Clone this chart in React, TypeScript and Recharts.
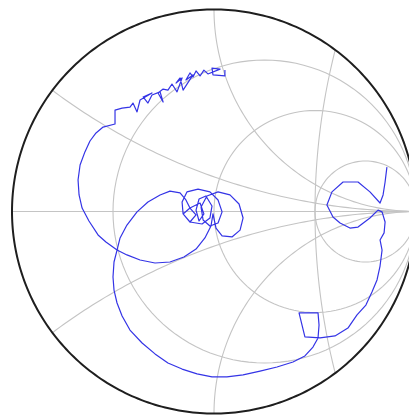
import React from "react";
import { ScatterChart, Scatter, XAxis, YAxis } from "recharts";

// normalized grid values of the Smith chart
const resistanceCircles = [1 / 3, 1, 3];
const reactanceArcs = [1 / 3, 1, -1 / 3, -1];
// extra pair of arcs: through z = 3 on the real axis and z = ±j2 on the rim
const sideArcR = 3;
const sideArcX = 2;

// measured reflection coefficient [re, im], in sweep order
const traceTop: [number, number][] = [
  [0.054, 0.7], [0.054, 0.671], [-0.005, 0.676], [-0.01, 0.71], [0.03, 0.705],
  [-0.03, 0.681], [-0.05, 0.7], [-0.069, 0.671], [-0.089, 0.696], [-0.104, 0.666],
  [-0.119, 0.686], [-0.139, 0.651], [-0.104, 0.676], [-0.153, 0.601], [-0.168, 0.661],
  [-0.188, 0.636], [-0.158, 0.661], [-0.183, 0.592], [-0.208, 0.631], [-0.228, 0.601],
  [-0.252, 0.606], [-0.277, 0.587], [-0.252, 0.542], [-0.267, 0.592], [-0.307, 0.577],
  [-0.327, 0.537], [-0.351, 0.567], [-0.307, 0.587], [-0.366, 0.552], [-0.381, 0.493],
  [-0.401, 0.537], [-0.416, 0.517], [-0.455, 0.512], [-0.49, 0.502], [-0.49, 0.433],
  [-0.549, 0.418],
];
const traceLeft: [number, number][] = [
  [-0.584, 0.389], [-0.614, 0.349], [-0.639, 0.295], [-0.663, 0.23], [-0.673, 0.156],
  [-0.668, 0.082], [-0.653, 0.017], [-0.619, -0.047], [-0.574, -0.116], [-0.535, -0.151],
  [-0.48, -0.191],
];
const traceEllipse: [number, number][] = [
  [-0.431, -0.215], [-0.366, -0.24], [-0.292, -0.255], [-0.218, -0.25], [-0.149, -0.225],
  [-0.089, -0.186], [-0.045, -0.131], [-0.015, -0.072], [-0.005, -0.012],
];
const traceLoops: [number, number][] = [
  [0.01, -0.082], [0.04, -0.121], [0.089, -0.126], [0.129, -0.092], [0.144, -0.032],
  [0.124, 0.037], [0.079, 0.082], [0.02, 0.097], [-0.035, 0.077], [-0.064, 0.022],
  [-0.054, -0.042], [-0.02, -0.072], [0.02, -0.057], [0.04, -0.002], [0.02, 0.057],
  [-0.02, 0.097], [-0.079, 0.111], [-0.134, 0.097], [-0.158, 0.047], [-0.153, -0.012],
  [-0.119, -0.052], [-0.059, -0.062], [-0.02, -0.032], [-0.01, 0.027], [-0.04, 0.077],
  [-0.074, 0.062], [-0.089, 0.007], [-0.074, -0.047], [-0.05, -0.012], [-0.069, 0.042],
  [-0.119, 0.017], [-0.089, -0.017], [-0.119, -0.052], [-0.153, -0.012], [-0.119, 0.017],
  [-0.139, 0.057], [-0.168, 0.092],
];
const traceReturn: [number, number][] = [
  [-0.218, 0.101], [-0.267, 0.082], [-0.327, 0.047], [-0.381, -0.002], [-0.431, -0.067],
  [-0.465, -0.131], [-0.48, -0.191],
];
const traceBottom: [number, number][] = [
  [-0.495, -0.25], [-0.5, -0.324], [-0.495, -0.389], [-0.48, -0.453], [-0.455, -0.517],
  [-0.416, -0.587], [-0.356, -0.651], [-0.292, -0.705], [-0.228, -0.75], [-0.158, -0.78],
  [-0.084, -0.804], [-0.01, -0.819], [0.064, -0.819], [0.144, -0.809], [0.228, -0.79],
  [0.312, -0.77], [0.391, -0.745], [0.45, -0.715], [0.49, -0.671], [0.515, -0.626],
  [0.52, -0.562], [0.515, -0.502], [0.421, -0.502], [0.45, -0.621], [0.525, -0.626],
  [0.599, -0.616], [0.663, -0.577], [0.708, -0.512],
];
const traceRight: [number, number][] = [
  [0.752, -0.463], [0.782, -0.399], [0.807, -0.339], [0.822, -0.27], [0.832, -0.191],
  [0.822, -0.141], [0.842, -0.106], [0.847, -0.052], [0.832, -0.002], [0.812, 0.007],
  [0.772, -0.032], [0.713, -0.077], [0.673, -0.082], [0.624, -0.057], [0.589, -0.027],
  [0.559, 0.032], [0.584, 0.097], [0.639, 0.146], [0.713, 0.146], [0.772, 0.097],
  [0.822, 0.042], [0.837, 0.082], [0.847, 0.146], [0.856, 0.22],
];

type Pt = { re: number; im: number };

const trace: Pt[] = [
  traceTop, traceLeft, traceEllipse, traceLoops, traceReturn, traceBottom, traceRight,
]
  .flat()
  .map(([re, im]) => ({ re, im }));

const arc = (cx: number, cy: number, rad: number, a0: number, a1: number, n = 120): Pt[] => {
  const pts: Pt[] = [];
  for (let i = 0; i <= n; i++) {
    const a = a0 + ((a1 - a0) * i) / n;
    pts.push({ re: cx + rad * Math.cos(a), im: cy + rad * Math.sin(a) });
  }
  return pts;
};

// z = r + jx  ->  gamma
const gamma = (r: number, x: number): [number, number] => {
  const d = (r + 1) ** 2 + x * x;
  return [(r * r + x * x - 1) / d, (2 * x) / d];
};

const rLines = resistanceCircles.map((r) => arc(r / (1 + r), 0, 1 / (1 + r), 0, 2 * Math.PI));

const xLines = reactanceArcs.map((x) => {
  const [gr, gi] = gamma(0, x);
  const cy = 1 / x;
  let end = Math.atan2(gi - cy, gr - 1);
  const start = x > 0 ? -Math.PI / 2 : Math.PI / 2;
  if (x > 0 && end > start) end -= 2 * Math.PI;
  if (x < 0 && end < start) end += 2 * Math.PI;
  return arc(1, cy, 1 / Math.abs(x), start, end, 80);
});

const sideLine = (() => {
  const g0 = gamma(sideArcR, 0)[0];
  const [pr, pi] = gamma(0, sideArcX);
  const c = (pr * pr + pi * pi - g0 * g0) / (2 * (pr - g0));
  const phi = Math.atan2(pi, c - pr);
  return arc(c, 0, c - g0, Math.PI - phi, Math.PI + phi, 80);
})();

const axisLine: Pt[] = [
  { re: -1, im: 0 },
  { re: 1, im: 0 },
];
const rim = arc(0, 0, 1, 0, 2 * Math.PI, 360);

const gridLines = [...rLines, ...xLines, sideLine, axisLine];

const noDot = () => <g />;

export default function App() {
  return (
    <div style={{ width: 409, height: 415, overflow: "hidden", background: "#fff" }}>
      <style>{`body{margin:0;overflow:hidden;}`}</style>
      <ScatterChart
        width={420}
        height={415}
        margin={{ top: 9.5, right: 4, bottom: 1.5, left: 12 }}
      >
        <XAxis type="number" dataKey="re" domain={[-1, 1]} hide />
        <YAxis type="number" dataKey="im" domain={[-1, 1]} hide />
        {gridLines.map((pts, i) => (
          <Scatter
            key={"g" + i}
            data={pts}
            line={{ stroke: "#c4c4c4", strokeWidth: 1.1 }}
            lineType="joint"
            shape={noDot}
            isAnimationActive={false}
          />
        ))}
        <Scatter
          data={rim}
          line={{ stroke: "#1e1e1e", strokeWidth: 2 }}
          lineType="joint"
          shape={noDot}
          isAnimationActive={false}
        />
        <Scatter
          data={trace}
          line={{ stroke: "#3434e6", strokeWidth: 1.2, strokeLinejoin: "round" }}
          lineType="joint"
          shape={noDot}
          isAnimationActive={false}
        />
      </ScatterChart>
    </div>
  );
}
